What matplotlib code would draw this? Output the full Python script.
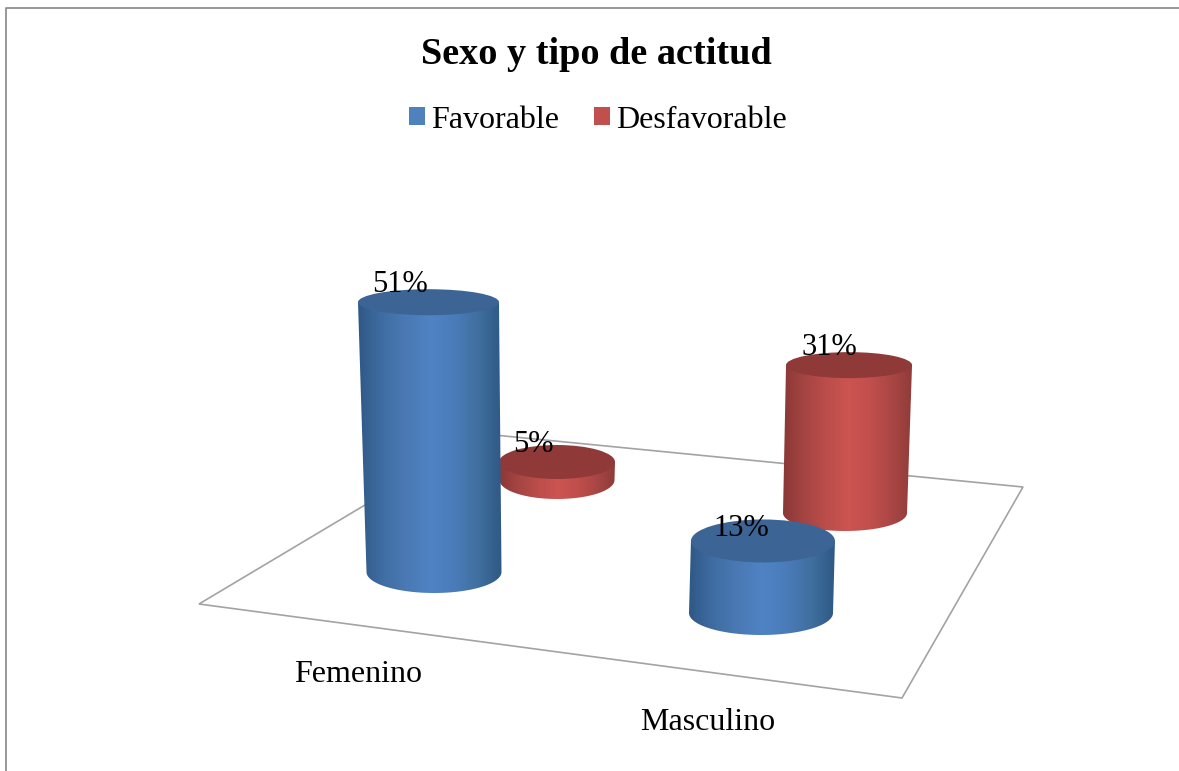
import numpy as np
import matplotlib
matplotlib.use("Agg")
import matplotlib.pyplot as plt
from matplotlib.colors import LinearSegmentedColormap
from matplotlib.patches import Ellipse, Patch, Polygon

plt.rcParams['font.family'] = ['Liberation Serif', 'DejaVu Serif']

# ---- data ----
title = "Sexo y tipo de actitud"
categories = ["Femenino", "Masculino"]
series_names = ["Favorable", "Desfavorable"]
favorable = [51, 13]
desfavorable = [5, 31]

# ---- styles ----
side_colors = {
    "Favorable": ["#2f5886", "#3f6da3", "#4a79b4", "#4f83c4", "#4a7cba", "#40709f", "#2f5886"],
    "Desfavorable": ["#8a3836", "#a54543", "#bb4d4a", "#cc5451", "#c24f4c", "#aa4745", "#8f3b39"],
}
top_colors = {"Favorable": "#3c6595", "Desfavorable": "#8f3a38"}
legend_colors = {"Favorable": "#4f81bd", "Desfavorable": "#c0504d"}

# ---- perspective layout: floor position and scale of each cylinder ----
floor_outline = [(199, 604), (902, 698), (1023, 487), (484, 434)]
# base centre x, base centre y, base rx, base ry, top rx, top ry, px per %, lean per %
layout = {
    ("Favorable", 0): (434, 572, 67.5, 21, 70.5, 13, 5.29, -0.108),
    ("Desfavorable", 0): (557, 480, 57.5, 19, 58, 17, 3.6, 0.0),
    ("Desfavorable", 1): (845, 513, 62, 18, 63, 13, 4.77, 0.13),
    ("Favorable", 1): (761, 613, 72, 22, 72, 21.5, 5.54, 0.15),
}
label_offset = {
    ("Favorable", 0): (-28, -18),
    ("Desfavorable", 0): (-24, -17),
    ("Desfavorable", 1): (-20, -18),
    ("Favorable", 1): (-22, -12),
}
category_label_pos = [(358.5, 675), (708, 722)]

W, H = 1179, 771
fig = plt.figure(figsize=(W / 100, H / 100), dpi=100, facecolor="white")
ax = fig.add_axes([0, 0, 1, 1])
ax.set_xlim(0, W)
ax.set_ylim(H, 0)
ax.axis("off")

# chart frame
ax.plot([5.5, 5.5, W], [H, 7.5, 7.5], color="#868686", lw=1.2, zorder=1)

# floor
ax.add_patch(Polygon(floor_outline, closed=True, fill=False, ec="#a3a3a3", lw=1.2, zorder=2))

values = {"Favorable": favorable, "Desfavorable": desfavorable}


def draw_cylinder(series, idx, z):
    cx, cy, rx, ry, trx, try_, scale, lean = layout[(series, idx)]
    v = values[series][idx]
    tx = cx + lean * v
    ty = cy - scale * v
    t = np.linspace(0, np.pi, 80)
    lower_x = cx - rx * np.cos(t)
    lower_y = cy + ry * np.sin(t)
    verts = [(tx - trx, ty)] + list(zip(lower_x, lower_y)) + [(tx + trx, ty)]
    xs = [p[0] for p in verts]
    x0, x1 = min(xs), max(xs)
    ys = [p[1] for p in verts]
    cmap = LinearSegmentedColormap.from_list(series, side_colors[series])
    grad = np.linspace(0, 1, 256)[None, :]
    im = ax.imshow(grad, cmap=cmap, extent=(x0, x1, max(ys) + 1, min(ys) - 1),
                   aspect="auto", zorder=z, interpolation="bilinear")
    clip = Polygon(verts, closed=True, transform=ax.transData)
    im.set_clip_path(clip)
    ax.add_patch(Ellipse((tx, ty), 2 * trx, 2 * try_, fc=top_colors[series], ec="none", zorder=z + 0.1))
    dx, dy = label_offset[(series, idx)]
    ax.text(tx + dx, ty + dy, f"{v}%", fontsize=22, color="black",
            ha="center", va="center", zorder=20)


draw_cylinder("Desfavorable", 0, 3)
draw_cylinder("Favorable", 0, 4)
draw_cylinder("Desfavorable", 1, 5)
draw_cylinder("Favorable", 1, 6)
ax.set_xlim(0, W)
ax.set_ylim(H, 0)

for name, (x, y) in zip(categories, category_label_pos):
    ax.text(x, y, name, fontsize=23, color="black", ha="center", va="center")

ax.text(596.5, 55, title, fontsize=27.5, fontweight="bold", color="black", ha="center", va="center")

handles = [Patch(fc=legend_colors[n], ec="none") for n in series_names]
ax.legend(handles, series_names, ncol=2, loc="center", bbox_to_anchor=(598 / W, 1 - 120 / H),
          bbox_transform=fig.transFigure, frameon=False, fontsize=23,
          handlelength=0.5, handleheight=0.5, handletextpad=0.2, columnspacing=1.07,
          borderpad=0, labelspacing=0)

fig.savefig("out.png", dpi=100, facecolor="white")
